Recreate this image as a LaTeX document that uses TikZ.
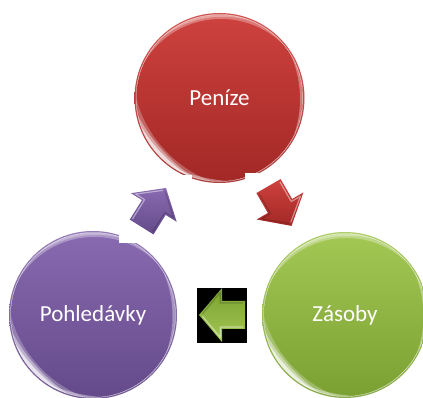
\documentclass[tikz,border=0pt]{standalone}
\usepackage{fontspec}
\setmainfont{Carlito}

\definecolor{redtop}{RGB}{206,66,62}
\definecolor{redbot}{RGB}{162,40,38}
\definecolor{purtop}{RGB}{136,106,176}
\definecolor{purbot}{RGB}{100,74,138}
\definecolor{grntop}{RGB}{164,200,84}
\definecolor{grnbot}{RGB}{122,160,50}

\tikzset{
  ball/.style 2 args={circle, inner sep=0pt, draw=none,
    top color=#1, bottom color=#2},
  balllabel/.style={text=white, font=\fontsize{23}{27}\selectfont},
  cutout/.style={fill=white, draw=none},
  pics/blockarrow/.style 2 args={code={
    \shade[top color=#1, bottom color=#2]
      (-23,-14) -- (0,-14) -- (0,-27) -- (23,0) -- (0,27) -- (0,14) -- (-23,14) -- cycle;
    \draw[white, opacity=.45, line width=1.2pt, line join=round]
      (-21,12) -- (1.8,12) -- (1.8,22.5) -- (19.5,1.2);
    \draw[black, opacity=.18, line width=1.2pt, line join=round]
      (-21,-12) -- (1.8,-12) -- (1.8,-22.5) -- (19.5,-1.2);
  }}
}

% a lens-shaped crescent of light inside the edge of a ball:
% centre, radius, direction, depth, half angle, strength
% (the depth must stay well below the sagitta of the half angle)
\newcommand\sheen[6]{%
  \begin{scope}[shift={(#1)}, rotate=#3]
    \pgfmathsetmacro\rin{#2-1.5}
    \pgfmathsetmacro\off{(#4*#4-2*\rin*#4)/(2*(\rin*cos(#5)-\rin+#4))}
    \pgfmathsetmacro\rout{\rin+\off-#4}
    \clip (0,0) circle (\rin);
    \fill[white, fill opacity=#6, even odd rule]
      (0,0) circle (\rin) (-\off,0) circle (\rout);
  \end{scope}}

% glossy look of a ball
\newcommand\glossrim[2]{%
  \draw[white, opacity=.12, line width=2pt] (#1) circle (#2-1);
  \sheen{#1}{#2}{222}{8}{42}{.25}
  \sheen{#1}{#2}{222}{6}{30}{.4}
  \sheen{#1}{#2}{224}{3.5}{24}{.65}
  \sheen{#1}{#2}{256}{2.5}{20}{.4}
  \sheen{#1}{#2}{97}{4.5}{58}{.3}
  \sheen{#1}{#2}{100}{2.5}{35}{.3}
  \sheen{#1}{#2}{2}{3}{30}{.35}}

\begin{document}
\begin{tikzpicture}[x=1pt,y=1pt]
\useasboundingbox (0,0) rectangle (423,398);
\fill[white] (0,0) rectangle (423,398);

% the three balls
\node[ball={redtop}{redbot}, minimum size=170pt] (penize) at (219.5,300) {};
\glossrim{penize.center}{85}
\node[ball={purtop}{purbot}, minimum size=168pt] (pohledavky) at (93,83) {};
\glossrim{pohledavky.center}{84}
\node[ball={grntop}{grnbot}, minimum size=166pt] (zasoby) at (345,83) {};
\glossrim{zasoby.center}{83}

% white boxes that cut into the balls
\fill[cutout] (245,198) rectangle (330,224.7);
\fill[cutout] (125,198) rectangle (191.7,223);
\fill[cutout] (119,155.3) rectangle (150,172);

% labels
\node[balllabel] at (penize.center) {Peníze};
\node[balllabel] at (pohledavky.center) {Pohledávky};
\node[balllabel] at (zasoby.center) {Zásoby};

% block arrows of the cycle
\fill[black] (197,55) rectangle (246.5,110);
\pic[rotate=-60] (toZasoby) at (280,192) {blockarrow={redtop}{redbot}};
\pic[rotate=180] (toPohledavky) at (222,83) {blockarrow={grnbot}{grntop}};
\pic[rotate=58] (toPenize) at (153.8,190.5) {blockarrow={purtop}{purbot}};
\end{tikzpicture}
\end{document}
